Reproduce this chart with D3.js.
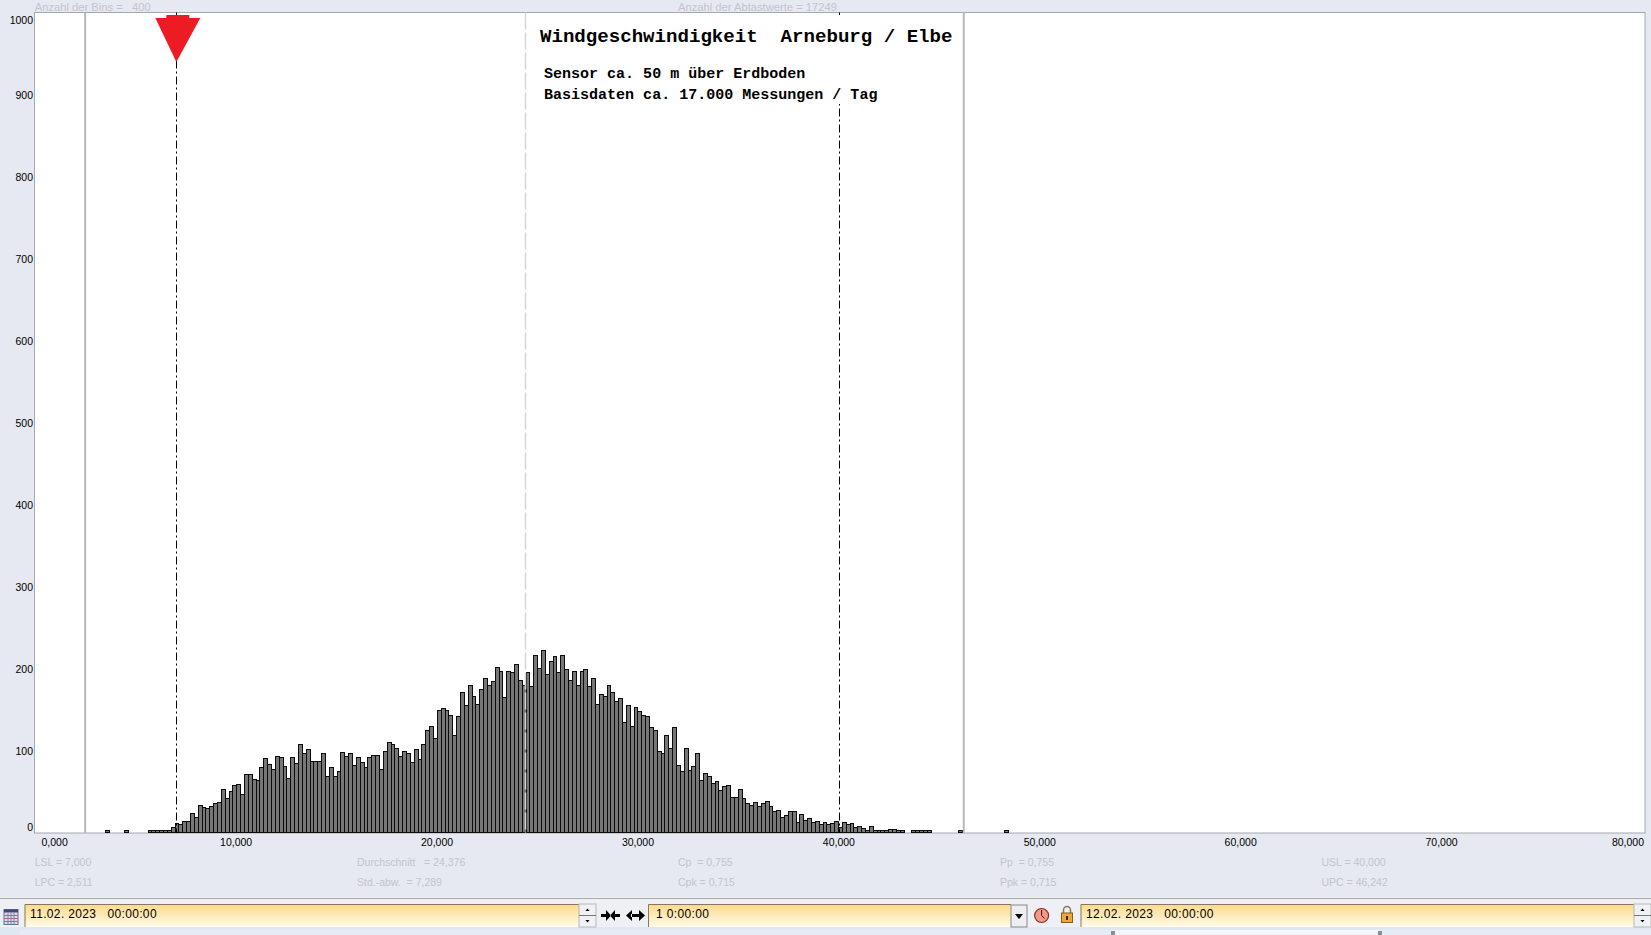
<!DOCTYPE html>
<html>
<head>
<meta charset="utf-8">
<script src="https://cdn.jsdelivr.net/npm/d3@7"></script>
<style>
  body { margin: 0; background: #e6e9f1; overflow: hidden; }
  svg text { font-family: "Liberation Sans", Arial, sans-serif; white-space: pre; }
  .mono { font-family: "Liberation Mono", monospace !important; font-weight: bold; fill: #000; }
  .stat { font-size: 10.5px; fill: #c2c5cc; }
  .axis text { font-size: 10.5px; fill: #000; }
  .axis path { display: none; }
  .field { font-size: 12px; fill: #000; letter-spacing: 0.35px; }
</style>
</head>
<body>
<svg id="chart"></svg>
<script>
// Counts per bin (bins after the last entry are empty)
const binCounts = [
  0,0,0,0,0,0,0,0,0,0,
  0,0,0,0,0,0,0,0,1,0,
  0,0,0,1,0,0,0,0,0,1,
  1,2,2,1,2,5,10,9,12,12,
  22,17,32,30,28,31,35,36,52,41,
  49,56,58,46,70,70,64,62,78,90,
  82,76,92,91,80,65,91,83,107,96,
  100,86,86,86,96,68,78,68,73,97,
  92,96,81,91,84,79,91,93,93,76,
  98,109,107,102,92,98,96,84,100,88,
  107,124,128,114,148,150,148,142,117,140,
  170,154,178,165,155,173,187,179,183,200,
  196,164,195,194,204,185,179,194,177,215,
  199,221,192,208,214,194,215,198,184,196,
  179,196,198,177,187,155,168,165,179,170,
  159,162,133,154,129,152,147,142,140,127,
  123,98,96,118,101,127,81,73,101,75,
  80,95,63,71,68,59,61,50,55,56,
  42,42,51,40,34,32,36,31,35,37,
  31,25,26,17,20,25,25,11,21,14,
  16,11,12,9,11,9,10,12,5,11,
  9,10,5,6,4,2,6,1,1,2,
  2,3,3,2,2,0,0,1,1,2,
  2,1,0,0,0,0,0,0,0,2,
  0,0,0,0,0,0,0,0,0,0,
  0,1
];
const binTotal = 400;
const binWidth = 0.192;

const xTicks = [0, 10, 20, 30, 40, 50, 60, 70, 80];
const yTicks = [0, 100, 200, 300, 400, 500, 600, 700, 800, 900, 1000];

const lsl = 7.0, usl = 40.0;
const lpc = 2.511, upc = 46.242;
const mean = 24.376;

const titleLine = "Windgeschwindigkeit  Arneburg / Elbe";
const subLines = ["Sensor ca. 50 m über Erdboden", "Basisdaten ca. 17.000 Messungen / Tag"];
const statsRow1 = ["LSL = 7,000", "Durchschnitt   = 24,376", "Cp  = 0,755", "Pp  = 0,755", "USL = 40,000"];
const statsRow2 = ["LPC = 2,511", "Std.-abw.  = 7,289", "Cpk = 0,715", "Ppk = 0,715", "UPC = 46,242"];

const width = 1651;
const height = 935;
const plot = { left: 34.5, top: 12.5, right: 1645, bottom: 833 };

const svg = d3.select("#chart").attr("width", width).attr("height", height);

// Scales
const x = d3.scaleLinear().domain([0, 80]).range([35.7, 1643]);
const y = d3.scaleLinear().domain([0, 1000]).range([832.3, 12.3]);

// Plot frame
svg.append("rect")
  .attr("x", plot.left).attr("y", plot.top)
  .attr("width", plot.right - plot.left).attr("height", plot.bottom - plot.top)
  .attr("fill", "#fff").attr("stroke", "#a6a8ac");

// Bars
const bars = d3.range(binTotal).map(i => binCounts[i] || 0);
const barTop = d => Math.round(y(d)) - (d > 0 ? 1 : 0);
svg.append("g").attr("shape-rendering", "crispEdges")
  .selectAll("rect")
  .data(bars)
  .enter()
  .append("rect")
  .attr("x", (d, i) => Math.round(x(i * binWidth)) + 0.5)
  .attr("width", (d, i) => Math.round(x((i + 1) * binWidth)) - Math.round(x(i * binWidth)))
  .attr("y", d => barTop(d) + 0.5)
  .attr("height", d => Math.round(y(0)) - barTop(d))
  .attr("fill", "#777")
  .attr("stroke", "#0c0c0c");

// Process limits and the mean
[lpc, upc].forEach(v => {
  svg.append("line")
    .attr("x1", x(v) - 1).attr("x2", x(v) - 1).attr("y1", plot.top).attr("y2", plot.bottom)
    .attr("stroke", "#b9b9bb").attr("stroke-width", 2);
});
svg.append("line")
  .attr("x1", Math.floor(x(mean)) + 0.5).attr("x2", Math.floor(x(mean)) + 0.5).attr("y1", plot.top).attr("y2", plot.bottom)
  .attr("stroke", "#d6d6d6").attr("stroke-width", 1.5).attr("stroke-dasharray", "17,3");
[lsl, usl].forEach(v => {
  svg.append("line")
    .attr("x1", Math.round(x(v)) + 0.5).attr("x2", Math.round(x(v)) + 0.5)
    .attr("y1", plot.top).attr("y2", plot.bottom)
    .attr("stroke", "#000").attr("stroke-dasharray", "8,3,2,3");
});

// The pasted text box hides the USL line behind it
svg.append("rect").attr("x", 530).attr("y", 15).attr("width", 428).attr("height", 89).attr("fill", "#fff");
svg.append("text").attr("class", "mono").attr("x", 540).attr("y", 41.5)
  .style("font-size", "19.1px").text(titleLine);
subLines.forEach((s, i) => {
  svg.append("text").attr("class", "mono").attr("x", 544).attr("y", 77.7 + i * 21)
    .style("font-size", "15.03px").text(s);
});

// Red marker on the LSL line
svg.append("path")
  .attr("d", `M${x(lsl) - 10},15H${x(lsl) + 13}V18H${x(lsl) + 24}L${x(lsl)},62L${x(lsl) - 21},18H${x(lsl) - 10}Z`)
  .attr("fill", "#ed1c24");

// Axes
const xAxis = svg.append("g").attr("class", "axis")
  .attr("transform", "translate(-1,830)")
  .call(d3.axisBottom(x).tickValues(xTicks).tickSize(0).tickFormat(d => d3.format(".3f")(d).replace(".", ",")));
xAxis.selectAll("line").remove();
xAxis.selectAll("text").attr("y", 9).attr("dy", "0.71em").attr("text-anchor", d => d === 0 ? "start" : d === 80 ? "end" : "middle")
  .attr("x", d => d === 0 ? 6.3 : d === 80 ? 1.5 : 0);

const yAxis = svg.append("g").attr("class", "axis")
  .attr("transform", "translate(33,1)")
  .call(d3.axisLeft(y).tickValues(yTicks).tickSize(0).tickPadding(0).tickFormat(d3.format("d")));
yAxis.selectAll("line").remove();
yAxis.selectAll("text").attr("dy", d => d === 0 ? "-0.25em" : d === 1000 ? "0.95em" : "0.32em");

// Grey statistics text
const statX = [34.7, 357, 678, 1000, 1321.5];
statsRow1.forEach((s, i) => svg.append("text").attr("class", "stat").attr("x", statX[i]).attr("y", 865.5).text(s));
statsRow2.forEach((s, i) => svg.append("text").attr("class", "stat").attr("x", statX[i]).attr("y", 886).text(s));
svg.append("text").attr("class", "stat").style("font-size", "11.2px").attr("x", 34.7).attr("y", 10.5).text("Anzahl der Bins =   400");
svg.append("text").attr("class", "stat").style("font-size", "11.2px").attr("x", 678).attr("y", 10.5).text("Anzahl der Abtastwerte = 17249");

// Toolbar below the chart
const defs = svg.append("defs");
const grad = defs.append("linearGradient").attr("id", "fieldFill").attr("x1", 0).attr("x2", 0).attr("y1", 0).attr("y2", 1);
grad.append("stop").attr("offset", "0%").attr("stop-color", "#fcd98a");
grad.append("stop").attr("offset", "100%").attr("stop-color", "#fffbe9");

svg.append("rect").attr("x", 0).attr("y", 897).attr("width", width).attr("height", 30).attr("fill", "#eef0f5");
svg.append("line").attr("x1", 0).attr("x2", width).attr("y1", 898.5).attr("y2", 898.5).attr("stroke", "#aaa89f");
svg.append("rect").attr("x", 0).attr("y", 927).attr("width", width).attr("height", 8).attr("fill", "#dde8f3");
svg.append("rect").attr("x", 20).attr("y", 930).attr("width", width - 20).attr("height", 5).attr("fill", "#e4edf6");
svg.append("rect").attr("x", 1113).attr("y", 930).attr("width", 267).attr("height", 5).attr("fill", "#f3f5f8");
[1113, 1380].forEach(hx => {
  svg.append("rect").attr("x", hx - 2).attr("y", 931).attr("width", 4).attr("height", 4).attr("fill", "#8a8f96");
});

const fields = [
  { x0: 24.5, x1: 579, tx: 30, label: "11.02. 2023   00:00:00" },
  { x0: 648, x1: 1011, tx: 656, label: "1 0:00:00" },
  { x0: 1080.5, x1: 1634, tx: 1086, label: "12.02. 2023   00:00:00" }
];
fields.forEach(f => {
  svg.append("rect").attr("x", f.x0).attr("y", 904).attr("width", f.x1 - f.x0).attr("height", 23).attr("fill", "url(#fieldFill)");
  svg.append("path").attr("d", `M${f.x0 + 0.5},927V904.5H${f.x1}`).attr("fill", "none").attr("stroke", "#85795a");
  svg.append("text").attr("class", "field").attr("x", f.tx).attr("y", 918).text(f.label);
});

// Spinners
[579, 1634].forEach(sx => {
  svg.append("rect").attr("x", sx).attr("y", 904).attr("width", 17).attr("height", 23).attr("fill", "#f0f1f4").attr("stroke", "#b8b8b8");
  svg.append("line").attr("x1", sx).attr("x2", sx + 17).attr("y1", 915.5).attr("y2", 915.5).attr("stroke", "#777");
  svg.append("path").attr("d", `M${sx + 6.5},911h4l-2,-2.5Z`).attr("fill", "#000");
  svg.append("path").attr("d", `M${sx + 6.5},920h4l-2,2.5Z`).attr("fill", "#000");
});

// Dropdown button
svg.append("rect").attr("x", 1011).attr("y", 905).attr("width", 16).attr("height", 22).attr("fill", "#eceef2").attr("stroke", "#888");
svg.append("path").attr("d", "M1015,914h8l-4,5Z").attr("fill", "#000");

// Zoom arrows
svg.append("path").attr("d", "M606,910l5,5.5l-5,5.5v-4h-5v-3h5Z M615,910l-5,5.5l5,5.5v-4h5v-3h-5Z").attr("fill", "#000");
svg.append("path").attr("d", "M632,910l-6,5.5l6,5.5Z M639,910l6,5.5l-6,5.5Z M631,914h9v3h-9Z").attr("fill", "#000");

// Calendar icon
svg.append("rect").attr("x", 4).attr("y", 909.5).attr("width", 14).attr("height", 15).attr("fill", "#d8dcf0").attr("stroke", "#6a6f8a");
svg.append("rect").attr("x", 4).attr("y", 909.5).attr("width", 14).attr("height", 3).attr("fill", "#3a4a78");
d3.range(3).forEach(k => {
  svg.append("line").attr("x1", 4).attr("x2", 18).attr("y1", 915.5 + k * 3).attr("y2", 915.5 + k * 3).attr("stroke", "#b06a80");
  svg.append("line").attr("x1", 8 + k * 3).attr("x2", 8 + k * 3).attr("y1", 913).attr("y2", 924).attr("stroke", "#7a80a8");
});

// Clock icon
svg.append("circle").attr("cx", 1041.6).attr("cy", 915.5).attr("r", 7).attr("fill", "#f09a8a").attr("stroke", "#8c2a20").attr("stroke-width", 1.2);
svg.append("path").attr("d", "M1041.6,910v5.5l3,3").attr("fill", "none").attr("stroke", "#401010");

// Lock icon
svg.append("path").attr("d", "M1063.5,913v-3a3.5,3.5 0 0 1 7,0v3").attr("fill", "none").attr("stroke", "#8a7a50").attr("stroke-width", 1.5);
svg.append("rect").attr("x", 1061.5).attr("y", 913).attr("width", 11).attr("height", 9.5).attr("fill", "#e8a83a").attr("stroke", "#8a5a10");
svg.append("rect").attr("x", 1066).attr("y", 916).attr("width", 2).attr("height", 4).attr("fill", "#402000");
</script>
</body>
</html>
